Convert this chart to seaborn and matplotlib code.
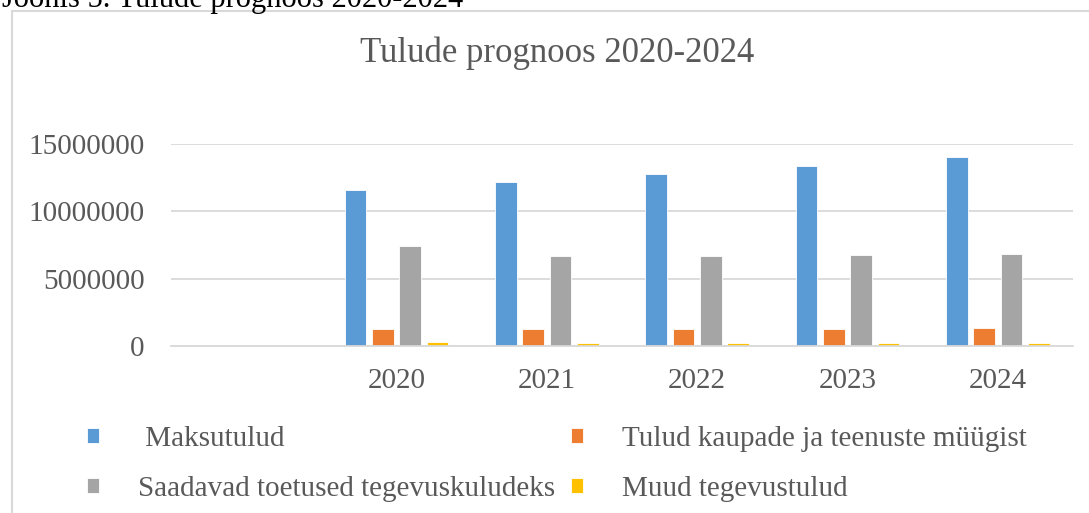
import matplotlib
matplotlib.use("Agg")
import matplotlib.pyplot as plt
import matplotlib.patches as mpatches
import seaborn as sns
import pandas as pd

# ---- data ----
years = ["", "2020", "2021", "2022", "2023", "2024"]
data_years = ["2020", "2021", "2022", "2023", "2024"]
series = [" Maksutulud", "Tulud kaupade ja teenuste müügist",
          "Saadavad toetused tegevuskuludeks", "Muud tegevustulud"]
maksutulud = [11560000, 12150000, 12750000, 13360000, 14010000]
kaubad = [1240000, 1260000, 1280000, 1290000, 1330000]
toetused = [7400000, 6660000, 6710000, 6760000, 6830000]
muud = [300000, 250000, 250000, 250000, 250000]
colors = ["#5B9BD5", "#ED7D31", "#A5A5A5", "#FFC000"]
yticks = [0, 5000000, 10000000, 15000000]

rows = []
for name, vals in zip(series, [maksutulud, kaubad, toetused, muud]):
    for y, v in zip(data_years, vals):
        rows.append({"Aasta": y, "Seeria": name, "Väärtus": v})
df = pd.DataFrame(rows)

sns.set_theme(style="white")
serif = ["Liberation Serif", "DejaVu Serif"]
plt.rcParams["font.family"] = serif
txt = "#595959"

fig = plt.figure(figsize=(10.89, 5.13), dpi=100)
ax = fig.add_axes([171 / 1089, 1 - 346 / 513, (1073 - 171) / 1089, (346 - 144) / 513])

sns.barplot(data=df, x="Aasta", y="Väärtus", hue="Seeria", order=years,
            hue_order=series, palette=colors, width=0.727, gap=0.2,
            saturation=1, ax=ax, edgecolor="white", linewidth=0.6)

ax.set_ylim(0, 15000000)
ax.set_yticks(yticks)
ax.set_yticklabels([str(t) for t in yticks])
ax.set_xlabel("")
ax.set_ylabel("")
ax.yaxis.grid(True, color="#D9D9D9", linewidth=1.3)
ax.set_axisbelow(True)
for s in ["top", "right", "left"]:
    ax.spines[s].set_visible(False)
ax.spines["bottom"].set_color("#D9D9D9")
ax.spines["bottom"].set_linewidth(1.3)
ax.tick_params(axis="y", length=0, pad=19, labelsize=21, labelcolor=txt)
ax.tick_params(axis="x", length=0, pad=16, labelsize=21, labelcolor=txt)

leg = ax.get_legend()
handles = list(leg.legend_handles)
labels = [t.get_text() for t in leg.texts]
leg.remove()
idx = [0, 2, 1, 3]  # row-major order as in the reference
fig.legend([handles[i] for i in idx], [labels[i] for i in idx], ncol=2,
           loc="upper left", bbox_to_anchor=(87 / 1089, 1 - 426 / 513),
           frameon=False, fontsize=21, labelcolor=txt, handlelength=0.4,
           handleheight=0.4, handletextpad=1.35, columnspacing=0.55,
           labelspacing=0.82, borderpad=0, borderaxespad=0)

fig.text(557 / 1089, 1 - 53 / 513, "Tulude prognoos 2020-2024", ha="center",
         va="center", fontsize=25, color=txt)
fig.text(2 / 1089, 1 - 7 / 513, "Joonis 5. Tulude prognoos 2020-2024",
         ha="left", va="baseline", fontsize=22, color="black")

border = mpatches.Rectangle((11.5 / 1089, -0.1), 1.2, 1 - 11 / 513 + 0.1,
                            transform=fig.transFigure, fill=False,
                            edgecolor="#D9D9D9", linewidth=1.5)
fig.patches.append(border)

fig.savefig("out.png", dpi=100)
